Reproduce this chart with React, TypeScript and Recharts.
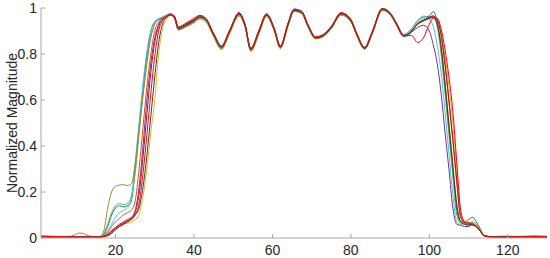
import { LineChart, Line, XAxis, YAxis } from "recharts";

// x positions shared by all traces (denser on the edges)
const xs = [
  1, 4, 8, 11, 14, 16, 17, 18, 19, 20, 21, 22, 23, 24, 25, 26, 27, 28, 29, 30, 31, 32, 33, 34, 35,
  36, 38, 40, 41.5, 43, 45, 47, 49, 51.5, 53, 54.5, 56.5, 58.5, 60.5, 62, 64, 65.5, 67.5, 69, 71, 73, 75,
  77.5, 80, 81.5, 83.5, 85.5, 88, 90, 91.5, 93.5, 95.5, 97, 98.5,
  100, 101, 102, 103, 104, 105, 106, 107, 108, 109, 110, 111, 112, 113, 114, 116, 119, 123, 127, 130,
];

const blue = [
  0.008, 0.005, 0.006, 0.004, 0.005, 0.006, 0.015, 0.05, 0.1, 0.13, 0.14, 0.135, 0.14, 0.16, 0.3, 0.48, 0.65, 0.8, 0.9, 0.94, 0.95, 0.955, 0.965, 0.97, 0.955,
  0.915, 0.93, 0.95, 0.965, 0.955, 0.89, 0.835, 0.9, 0.975, 0.93, 0.825, 0.9, 0.972, 0.91, 0.835, 0.935, 0.995, 0.985, 0.93, 0.875, 0.885, 0.92, 0.978, 0.95, 0.89, 0.83, 0.9, 0.998, 0.98, 0.94, 0.885, 0.91, 0.945, 0.96,
  0.965, 0.985, 0.94, 0.82, 0.65, 0.47, 0.29, 0.12, 0.07, 0.07, 0.08, 0.09, 0.07, 0.04, 0.01, 0.004, 0.006, 0.005, 0.004, 0.005,
];
const orange = [
  0.006, 0.005, 0.007, 0.005, 0.004, 0.005, 0.01, 0.025, 0.05, 0.07, 0.085, 0.1, 0.11, 0.12, 0.16, 0.3, 0.48, 0.66, 0.8, 0.9, 0.94, 0.955, 0.965, 0.97, 0.96,
  0.905, 0.92, 0.95, 0.968, 0.952, 0.88, 0.828, 0.892, 0.98, 0.922, 0.818, 0.89, 0.975, 0.9, 0.828, 0.925, 0.99, 0.978, 0.92, 0.868, 0.878, 0.912, 0.972, 0.942, 0.882, 0.822, 0.892, 0.99, 0.972, 0.932, 0.878, 0.9, 0.935, 0.95,
  0.96, 0.965, 0.95, 0.88, 0.75, 0.59, 0.42, 0.24, 0.09, 0.07, 0.065, 0.06, 0.05, 0.03, 0.01, 0.005, 0.004, 0.006, 0.005, 0.004,
];
const yellow = [
  0.006, 0.005, 0.006, 0.005, 0.004, 0.005, 0.008, 0.02, 0.035, 0.045, 0.055, 0.06, 0.065, 0.07, 0.08, 0.1, 0.18, 0.3, 0.46, 0.6, 0.8, 0.91, 0.95, 0.97, 0.96,
  0.915, 0.928, 0.94, 0.955, 0.945, 0.878, 0.82, 0.888, 0.97, 0.92, 0.81, 0.885, 0.965, 0.898, 0.822, 0.925, 0.985, 0.975, 0.922, 0.865, 0.875, 0.91, 0.97, 0.94, 0.88, 0.82, 0.89, 0.99, 0.97, 0.93, 0.875, 0.895, 0.93, 0.945,
  0.955, 0.96, 0.955, 0.89, 0.79, 0.66, 0.5, 0.3, 0.11, 0.075, 0.07, 0.065, 0.055, 0.035, 0.012, 0.006, 0.007, 0.005, 0.006, 0.008,
];
const purple = [
  0.005, 0.004, 0.005, 0.004, 0.005, 0.004, 0.008, 0.015, 0.03, 0.045, 0.06, 0.07, 0.08, 0.09, 0.12, 0.22, 0.4, 0.6, 0.76, 0.87, 0.93, 0.955, 0.965, 0.97, 0.96,
  0.91, 0.922, 0.942, 0.96, 0.948, 0.88, 0.825, 0.89, 0.972, 0.925, 0.815, 0.892, 0.968, 0.905, 0.83, 0.928, 0.99, 0.98, 0.925, 0.868, 0.88, 0.915, 0.975, 0.945, 0.885, 0.822, 0.895, 0.995, 0.975, 0.93, 0.875, 0.895, 0.915, 0.925,
  0.9, 0.84, 0.76, 0.63, 0.46, 0.3, 0.13, 0.06, 0.055, 0.05, 0.05, 0.06, 0.05, 0.03, 0.01, 0.004, 0.005, 0.004, 0.006, 0.005,
];
const green = [
  0.007, 0.005, 0.004, 0.006, 0.005, 0.007, 0.02, 0.06, 0.11, 0.14, 0.15, 0.145, 0.15, 0.18, 0.28, 0.45, 0.62, 0.77, 0.88, 0.93, 0.95, 0.96, 0.965, 0.97, 0.96,
  0.905, 0.918, 0.935, 0.952, 0.94, 0.875, 0.82, 0.885, 0.965, 0.918, 0.815, 0.885, 0.962, 0.9, 0.825, 0.922, 0.985, 0.975, 0.922, 0.868, 0.878, 0.91, 0.968, 0.94, 0.882, 0.825, 0.892, 0.99, 0.972, 0.932, 0.88, 0.9, 0.935, 0.95,
  0.96, 0.965, 0.92, 0.8, 0.63, 0.45, 0.27, 0.1, 0.065, 0.06, 0.06, 0.065, 0.05, 0.03, 0.01, 0.005, 0.006, 0.004, 0.006, 0.005,
];
const cyan = [
  0.006, 0.004, 0.005, 0.005, 0.004, 0.006, 0.012, 0.03, 0.06, 0.09, 0.11, 0.12, 0.13, 0.17, 0.33, 0.5, 0.67, 0.81, 0.9, 0.94, 0.955, 0.96, 0.97, 0.975, 0.955,
  0.912, 0.928, 0.948, 0.965, 0.955, 0.888, 0.832, 0.898, 0.978, 0.93, 0.822, 0.9, 0.972, 0.908, 0.832, 0.932, 0.995, 0.985, 0.93, 0.872, 0.882, 0.918, 0.978, 0.948, 0.888, 0.828, 0.898, 0.998, 0.98, 0.94, 0.885, 0.91, 0.945, 0.965,
  0.95, 0.92, 0.84, 0.72, 0.55, 0.37, 0.19, 0.07, 0.06, 0.06, 0.065, 0.06, 0.05, 0.03, 0.01, 0.004, 0.006, 0.005, 0.004, 0.005,
];
const darkRed = [
  0.006, 0.005, 0.004, 0.005, 0.006, 0.005, 0.008, 0.015, 0.03, 0.045, 0.055, 0.065, 0.075, 0.085, 0.11, 0.19, 0.35, 0.54, 0.72, 0.85, 0.92, 0.95, 0.96, 0.97, 0.965,
  0.915, 0.93, 0.948, 0.962, 0.95, 0.885, 0.83, 0.895, 0.975, 0.925, 0.82, 0.895, 0.97, 0.905, 0.83, 0.93, 0.99, 0.98, 0.925, 0.87, 0.88, 0.915, 0.975, 0.945, 0.885, 0.825, 0.895, 0.995, 0.975, 0.935, 0.88, 0.9, 0.93, 0.945,
  0.96, 0.965, 0.95, 0.885, 0.76, 0.6, 0.43, 0.25, 0.09, 0.065, 0.06, 0.055, 0.05, 0.03, 0.01, 0.005, 0.004, 0.005, 0.004, 0.005,
];
const olive = [
  0.01, 0.008, 0.006, 0.022, 0.006, 0.005, 0.03, 0.13, 0.2, 0.225, 0.23, 0.232, 0.228, 0.235, 0.32, 0.47, 0.62, 0.76, 0.87, 0.93, 0.95, 0.96, 0.968, 0.97, 0.955,
  0.908, 0.92, 0.94, 0.958, 0.948, 0.882, 0.828, 0.892, 0.97, 0.922, 0.818, 0.892, 0.968, 0.902, 0.828, 0.928, 0.99, 0.978, 0.922, 0.868, 0.878, 0.912, 0.972, 0.942, 0.882, 0.822, 0.892, 0.992, 0.972, 0.932, 0.878, 0.898, 0.928, 0.942,
  0.955, 0.96, 0.935, 0.84, 0.68, 0.5, 0.32, 0.15, 0.07, 0.065, 0.065, 0.07, 0.06, 0.035, 0.012, 0.006, 0.008, 0.007, 0.01, 0.006,
];
const dark = [
  0.005, 0.004, 0.005, 0.004, 0.005, 0.004, 0.006, 0.01, 0.02, 0.035, 0.05, 0.06, 0.07, 0.085, 0.1, 0.13, 0.22, 0.36, 0.53, 0.7, 0.85, 0.93, 0.96, 0.97, 0.96,
  0.91, 0.925, 0.945, 0.96, 0.95, 0.885, 0.83, 0.895, 0.975, 0.925, 0.82, 0.895, 0.97, 0.905, 0.83, 0.93, 0.99, 0.98, 0.925, 0.87, 0.88, 0.915, 0.975, 0.945, 0.885, 0.825, 0.895, 0.995, 0.975, 0.935, 0.88, 0.9, 0.93, 0.945,
  0.955, 0.96, 0.93, 0.83, 0.67, 0.49, 0.31, 0.14, 0.07, 0.06, 0.055, 0.06, 0.05, 0.03, 0.01, 0.005, 0.006, 0.005, 0.006, 0.005,
];
const red = [
  0.005, 0.006, 0.005, 0.004, 0.005, 0.004, 0.007, 0.012, 0.025, 0.04, 0.05, 0.06, 0.07, 0.08, 0.1, 0.15, 0.28, 0.45, 0.63, 0.79, 0.9, 0.945, 0.965, 0.975, 0.965,
  0.918, 0.935, 0.955, 0.968, 0.955, 0.89, 0.835, 0.9, 0.98, 0.93, 0.825, 0.9, 0.975, 0.91, 0.835, 0.935, 0.995, 0.985, 0.93, 0.875, 0.885, 0.92, 0.98, 0.95, 0.89, 0.83, 0.9, 0.998, 0.978, 0.935, 0.88, 0.88, 0.85, 0.87,
  0.93, 0.955, 0.955, 0.91, 0.82, 0.7, 0.55, 0.33, 0.12, 0.07, 0.065, 0.06, 0.05, 0.03, 0.01, 0.005, 0.004, 0.005, 0.006, 0.005,
];

const series = [
  { key: "s1", values: blue, color: "#0072BD" },
  { key: "s2", values: orange, color: "#D95319" },
  { key: "s3", values: yellow, color: "#EDB120" },
  { key: "s4", values: purple, color: "#7E2F8E" },
  { key: "s5", values: green, color: "#77AC30" },
  { key: "s6", values: cyan, color: "#4DBEEE" },
  { key: "s7", values: darkRed, color: "#A2142F" },
  { key: "s8", values: olive, color: "#A08A2A" },
  { key: "s9", values: dark, color: "#3A3A3A" },
  { key: "s10", values: red, color: "#FF0000" },
];

const xTicks = [20, 40, 60, 80, 100, 120];
const yTicks = [0, 0.2, 0.4, 0.6, 0.8, 1];

const rows = xs.map((x, i) => {
  const row: Record<string, number> = { x };
  series.forEach((s) => (row[s.key] = s.values[i]));
  return row;
});

const axisColor = "#a6a6a6";
const tickFont = {
  fontSize: 14,
  fill: "#262626",
  fontFamily: "'Liberation Sans Narrow', 'Liberation Sans', Arial, sans-serif",
};

const YLabel = ({ viewBox }: any) => (
  <text
    x={17}
    y={viewBox.y + viewBox.height / 2}
    transform={`rotate(-90, 17, ${viewBox.y + viewBox.height / 2})`}
    textAnchor="middle"
    fontSize={14}
    fill="#262626"
    fontFamily="'Liberation Sans', Arial, sans-serif"
  >
    Normalized Magnitude
  </text>
);

export default function App() {
  return (
    <div style={{ width: 550, height: 258 }}>
      <style>{"body{margin:0}"}</style>
      <LineChart width={550} height={258} data={rows} margin={{ top: 8, right: 3, bottom: 0, left: 0 }}>
        <XAxis
          dataKey="x"
          type="number"
          domain={[1, 130]}
          ticks={xTicks}
          allowDataOverflow
          height={20}
          stroke={axisColor}
          tickSize={-4}
          tickMargin={11}
          tick={tickFont}
        />
        <XAxis
          xAxisId="top"
          orientation="top"
          dataKey="x"
          type="number"
          domain={[1, 130]}
          ticks={xTicks}
          allowDataOverflow
          height={0}
          stroke={axisColor}
          tickSize={-4}
          tick={false}
        />
        <YAxis
          type="number"
          domain={[0, 1]}
          ticks={yTicks}
          width={41}
          stroke={axisColor}
          tickSize={-4}
          tickMargin={8}
          tick={tickFont}
          label={{ content: YLabel }}
        />
        <YAxis
          yAxisId="right"
          orientation="right"
          type="number"
          domain={[0, 1]}
          ticks={yTicks}
          width={0}
          stroke={axisColor}
          tickSize={-4}
          tick={false}
        />
        {series.map((s) => (
          <Line
            key={s.key}
            dataKey={s.key}
            type="monotone"
            stroke={s.color}
            strokeWidth={1}
            dot={false}
            isAnimationActive={false}
          />
        ))}
      </LineChart>
    </div>
  );
}
